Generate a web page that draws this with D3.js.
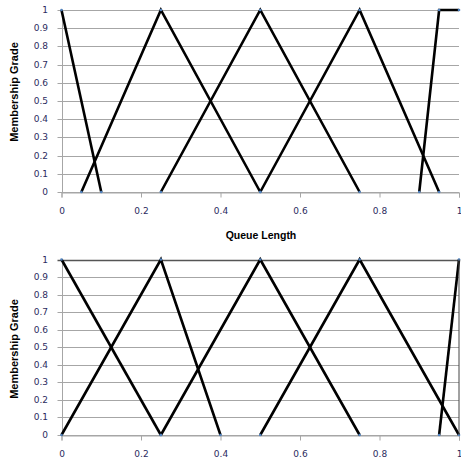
<!DOCTYPE html>
<html>
<head>
<meta charset="utf-8">
<script src="https://cdn.jsdelivr.net/npm/d3@7"></script>
<style>
  body { margin: 0; background: #fff; }
  svg { display: block; }
</style>
</head>
<body>
<script>
// membership functions, one list of [x, grade] points per curve
const topSeries = [
  [[0, 1], [0.1, 0]],
  [[0.05, 0], [0.25, 1], [0.5, 0]],
  [[0.25, 0], [0.5, 1], [0.75, 0]],
  [[0.5, 0], [0.75, 1], [0.95, 0]],
  [[0.9, 0], [0.95, 1], [1, 1]]
];
const bottomSeries = [
  [[0, 1], [0.25, 0]],
  [[0, 0], [0.25, 1], [0.4, 0]],
  [[0.25, 0], [0.5, 1], [0.75, 0]],
  [[0.5, 0], [0.75, 1], [1, 0]],
  [[0.95, 0], [1, 1]]
];
const xTicks = [0, 0.2, 0.4, 0.6, 0.8, 1];
const yTicks = [0, 0.1, 0.2, 0.3, 0.4, 0.5, 0.6, 0.7, 0.8, 0.9, 1];
const xTitle = "Queue Length";
const yTitle = "Membership Grade";

const svg = d3.select("body").append("svg")
  .attr("width", 461)
  .attr("height", 462);

function drawChart(series, top, bottom, titleY, showXTitle, darkTop) {
  const x = d3.scaleLinear().domain([0, 1]).range([61.5, 459]);
  const y = d3.scaleLinear().domain([0, 1]).range([bottom, top]);
  const g = svg.append("g");

  // horizontal gridlines
  g.selectAll("line.grid").data(yTicks).enter().append("line")
    .attr("class", "grid")
    .attr("x1", x(0) - 4).attr("x2", x(1))
    .attr("y1", d => Math.round(y(d)) + 0.5)
    .attr("y2", d => Math.round(y(d)) + 0.5)
    .attr("stroke", d => (darkTop && d === 1) ? "#555" : "#a6a6a6")
    .attr("stroke-width", d => (darkTop && d === 1) ? 1.5 : 1);

  // y axis line
  g.append("line")
    .attr("x1", Math.round(x(0)) + 0.5).attr("x2", Math.round(x(0)) + 0.5)
    .attr("y1", y(1)).attr("y2", y(0))
    .attr("stroke", "#a6a6a6");

  // x axis
  const xAxis = d3.axisBottom(x).tickValues(xTicks).tickSize(5).tickPadding(10)
    .tickFormat(d3.format("~g"));
  const ax = g.append("g")
    .attr("transform", "translate(0," + (Math.round(y(0)) + 0.5) + ")")
    .call(xAxis);
  ax.select(".domain").attr("stroke", "#a6a6a6");
  ax.selectAll(".tick line").attr("stroke", "#a6a6a6");
  ax.selectAll("text")
    .attr("fill", "#2b2b5e")
    .style("font-family", "DejaVu Sans, Verdana, sans-serif")
    .style("font-size", "9px");

  // y tick labels
  g.selectAll("text.ylab").data(yTicks).enter().append("text")
    .attr("class", "ylab")
    .attr("x", 48)
    .attr("y", d => y(d) + 3)
    .attr("text-anchor", "end")
    .attr("fill", "#2b2b5e")
    .style("font-family", "DejaVu Sans, Verdana, sans-serif")
    .style("font-size", "9px")
    .text(d => d3.format("~g")(d));

  // curves
  const line = d3.line().x(d => x(d[0])).y(d => y(d[1]));
  g.selectAll("path.mf").data(series).enter().append("path")
    .attr("class", "mf")
    .attr("d", line)
    .attr("fill", "none")
    .attr("stroke", "#000")
    .attr("stroke-width", 2.6)
    .attr("stroke-linejoin", "miter");

  // point markers
  const pts = series.flat();
  g.selectAll("circle").data(pts).enter().append("circle")
    .attr("cx", d => x(d[0]))
    .attr("cy", d => y(d[1]))
    .attr("r", 1.3)
    .attr("fill", "#4f81bd");

  // titles
  g.append("text")
    .attr("transform", "translate(18," + titleY + ") rotate(-90)")
    .attr("text-anchor", "middle")
    .style("font-family", "Liberation Sans Narrow, Liberation Sans, sans-serif")
    .style("font-weight", "bold")
    .style("font-size", "11px")
    .text(yTitle);

  if (showXTitle) {
    g.append("text")
      .attr("x", 261)
      .attr("y", 239)
      .attr("text-anchor", "middle")
      .style("font-family", "Liberation Sans, sans-serif")
      .style("font-weight", "bold")
      .style("font-size", "10.5px")
      .text(xTitle);
  }
  return { x, y, g };
}

drawChart(topSeries, 10, 192, 92, true, false);
const b = drawChart(bottomSeries, 259.5, 435, 349, false, true);

// thin right edge on the lower plot
b.g.append("line")
  .attr("x1", b.x(1)).attr("x2", b.x(1))
  .attr("y1", b.y(1)).attr("y2", b.y(0))
  .attr("stroke", "#444");
</script>
</body>
</html>
